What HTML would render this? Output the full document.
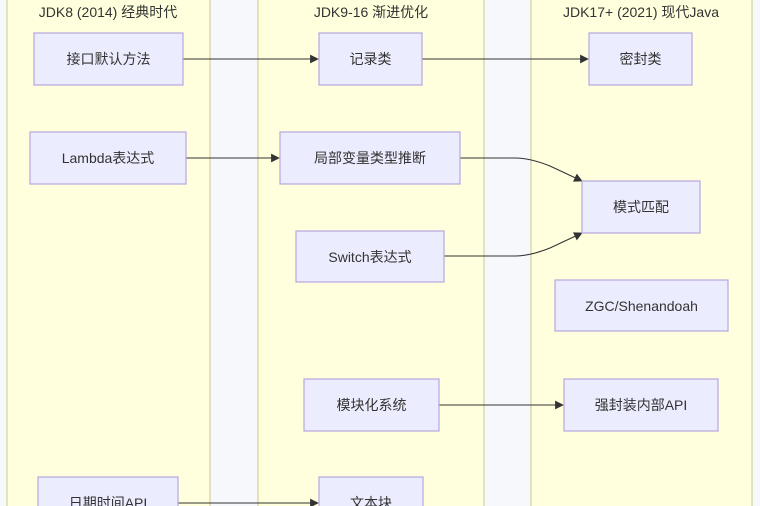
<!DOCTYPE html>
<html><head><meta charset="utf-8"><style>
html,body{margin:0;padding:0;background:#f7f8fc;}
svg{display:block;}
text{font-family:"Liberation Sans","Noto Sans CJK SC",sans-serif;font-size:14px;fill:#333;}
.lane{fill:#ffffde;stroke:#c9c98a;stroke-width:1;}
.node{fill:#ececff;stroke:#b7a7e0;stroke-width:1.2;}
.e{fill:none;stroke:#333;stroke-width:1.1;}
</style></head><body>
<svg width="760" height="506" viewBox="0 0 760 506">
<defs><marker id="a" viewBox="0 0 10 10" refX="9" refY="5" markerWidth="8" markerHeight="8" orient="auto"><path d="M0,0L10,5L0,10z" fill="#333"/></marker></defs>
<rect x="0" y="0" width="760" height="506" fill="#f7f8fc"/>
<rect class="lane" x="7" y="-2" width="203" height="520"/>
<rect class="lane" x="258" y="-2" width="226" height="520"/>
<rect class="lane" x="531" y="-2" width="221" height="520"/>
<text x="108" y="17" text-anchor="middle">JDK8 (2014) 经典时代</text>
<text x="371" y="17" text-anchor="middle">JDK9-16 渐进优化</text>
<text x="641" y="17" text-anchor="middle">JDK17+ (2021) 现代Java</text>

<path class="e" d="M183,59 L318,59" marker-end="url(#a)"/>
<path class="e" d="M422,59 L588,59" marker-end="url(#a)"/>
<path class="e" d="M186,158 L279,158" marker-end="url(#a)"/>
<path class="e" d="M460,158 L515,158 Q530,158 550,166 L582,181" marker-end="url(#a)"/>
<path class="e" d="M444,256 L515,256 Q530,256 550,248 L582,233" marker-end="url(#a)"/>
<path class="e" d="M439,405 L563,405" marker-end="url(#a)"/>
<path class="e" d="M178,503 L318,503" marker-end="url(#a)"/>

<rect class="node" x="34" y="33" width="149" height="52"/><text x="108.5" y="64" text-anchor="middle">接口默认方法</text>
<rect class="node" x="30" y="132" width="156" height="52"/><text x="108" y="163" text-anchor="middle">Lambda表达式</text>
<rect class="node" x="38" y="477" width="140" height="52"/><text x="108" y="508" text-anchor="middle">日期时间API</text>
<rect class="node" x="319" y="33" width="103" height="52"/><text x="370.5" y="64" text-anchor="middle">记录类</text>
<rect class="node" x="280" y="132" width="180" height="52"/><text x="370" y="163" text-anchor="middle">局部变量类型推断</text>
<rect class="node" x="296" y="231" width="148" height="51"/><text x="370" y="262" text-anchor="middle">Switch表达式</text>
<rect class="node" x="304" y="379" width="135" height="52"/><text x="371.5" y="410" text-anchor="middle">模块化系统</text>
<rect class="node" x="319" y="477" width="104" height="52"/><text x="371" y="508" text-anchor="middle">文本块</text>
<rect class="node" x="589" y="33" width="103" height="52"/><text x="640.5" y="64" text-anchor="middle">密封类</text>
<rect class="node" x="582" y="181" width="118" height="52"/><text x="641" y="212" text-anchor="middle">模式匹配</text>
<rect class="node" x="555" y="280" width="173" height="51"/><text x="641.5" y="311" text-anchor="middle">ZGC/Shenandoah</text>
<rect class="node" x="564" y="379" width="154" height="52"/><text x="641" y="410" text-anchor="middle">强封装内部API</text>
</svg>
</body></html>
